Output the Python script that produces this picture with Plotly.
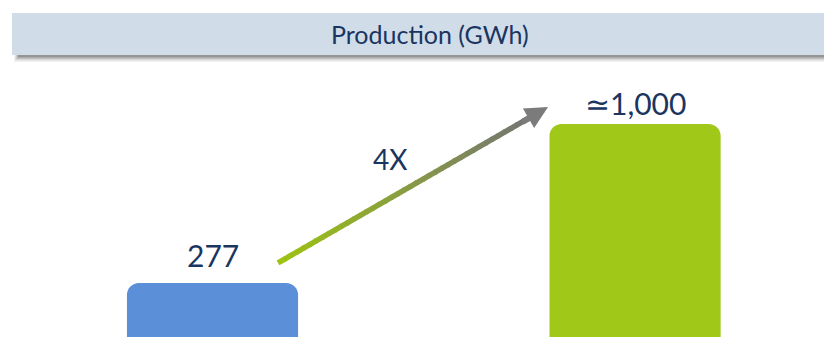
import plotly.graph_objects as go

# ---- data ----
categories = ["Current", "Target"]
production_gwh = [277, 1000]
value_labels = ["277", "\u22431,000"]
bar_colors = ["#5b8fd7", "#a0c818"]
title_text = "Production (GWh)"
growth_label = "4X"

# ---- style ----
label_yshift = [8, 1]
W, H = 832, 337
NAVY = "#1a3560"
FONT = "Lato"

fig = go.Figure()
fig.add_trace(go.Bar(
    x=categories, y=production_gwh,
    marker=dict(color=bar_colors, cornerradius=12,
                line=dict(width=0)),
    width=0.405, hoverinfo="skip", showlegend=False,
))

# value labels above bars
for c, v, lab, ys in zip(categories, production_gwh, value_labels, label_yshift):
    fig.add_annotation(x=c, y=v, text=lab, showarrow=False, yanchor="bottom",
                       yshift=ys, font=dict(family=FONT, size=30, color=NAVY))

# growth arrow (gradient from green to grey), anchored relative to bar values
x0, y0 = 0.155, production_gwh[0] * 1.33
x1, y1 = 0.794, production_gwh[1] * 1.077
n = 40
c0 = (0x9e, 0xc4, 0x12)
c1 = (0x74, 0x74, 0x74)
ex = x0 + (x1 - x0) * 0.93
ey = y0 + (y1 - y0) * 0.93
for i in range(n):
    t0, t1 = i / n, (i + 1) / n
    col = tuple(int(c0[k] + (c1[k] - c0[k]) * (t0 + t1) / 2) for k in range(3))
    fig.add_shape(type="line", xref="x", yref="y",
                  x0=x0 + (ex - x0) * t0, y0=y0 + (ey - y0) * t0,
                  x1=x0 + (ex - x0) * t1 + (ex - x0) * 0.005, y1=y0 + (ey - y0) * t1 + (ey - y0) * 0.005,
                  line=dict(color="rgb(%d,%d,%d)" % col, width=5.5))
fig.add_annotation(x=x1, y=y1, ax=x0 + (x1 - x0) * 0.9, ay=y0 + (y1 - y0) * 0.9,
                   xref="x", yref="y", axref="x", ayref="y", text="",
                   showarrow=True, arrowhead=2, arrowsize=0.75, arrowwidth=6,
                   arrowcolor="#7b7b7b")
fig.add_annotation(x=0.42, y=production_gwh[1] * 0.84, xref="x", yref="y", text=growth_label,
                   showarrow=False, xanchor="center", yanchor="middle",
                   font=dict(family=FONT, size=28, color=NAVY))

# header band with soft shadow (page has an 8px offset)
def px(yp):
    return 1 - yp / H

for k, a in enumerate([0.05, 0.07, 0.09, 0.12, 0.16]):
    off = 7 - k * 1.2
    fig.add_shape(type="rect", xref="paper", yref="paper",
                  x0=(6 + k) / W, x1=1.0, y0=px(47 + off), y1=px(32),
                  fillcolor="rgba(0,0,0,%.2f)" % a, line=dict(width=0), layer="below")
fig.add_shape(type="rect", xref="paper", yref="paper",
              x0=4 / W, x1=1.0, y0=px(47), y1=px(5),
              fillcolor="#d0dde9", line=dict(width=0), layer="below")
fig.add_annotation(x=422 / W, y=px(26), xref="paper", yref="paper", text=title_text,
                   showarrow=False, xanchor="center", yanchor="middle",
                   font=dict(family=FONT, size=25, color=NAVY))

fig.update_layout(
    width=W, height=H, margin=dict(l=0, r=0, t=0, b=0),
    paper_bgcolor="white", plot_bgcolor="white",
    xaxis=dict(range=[-0.484, 1.485], visible=False, fixedrange=True),
    yaxis=dict(range=[-5, 1527.5], visible=False, fixedrange=True),
    bargap=0.2,
)
fig.write_html("out.html", config={"displayModeBar": False})
